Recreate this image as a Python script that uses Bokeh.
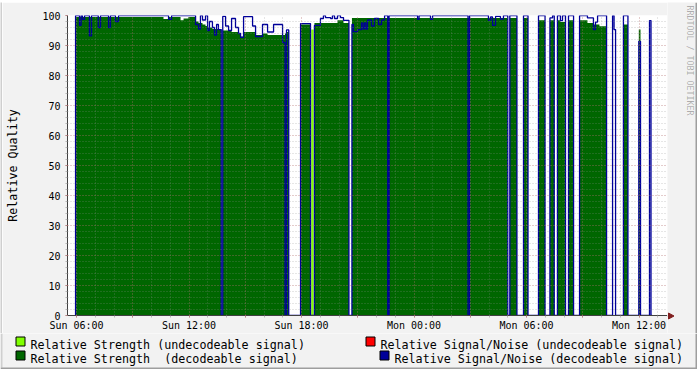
import math
from bokeh.plotting import figure
from bokeh.layouts import column, row
from bokeh.models import FixedTicker, Range1d
from bokeh.core.properties import value
from bokeh.embed import file_html
from bokeh.resources import INLINE

# ---- data (time in hours since Sunday 00:00; each value holds until the next start) ----
t_start = [5.95, 6.16, 6.245, 6.32, 6.43, 6.69, 6.80, 7.16, 7.28, 7.71,
           7.81, 8.08, 8.24, 10.64, 10.91, 11.07, 11.55, 11.71, 11.97, 12.35,
           12.51, 12.61, 12.72, 12.88, 12.99, 13.09, 13.25, 13.36, 13.47, 13.57,
           13.72, 13.80, 13.95, 14.11, 14.27, 14.48, 14.64, 14.75, 14.91, 15.39,
           15.55, 15.92, 16.19, 16.51, 16.99, 17.12, 17.20, 17.32, 17.95, 18.48,
           18.69, 19.01, 19.17, 19.28, 19.55, 19.65, 19.76, 19.92, 20.08, 20.24,
           20.53, 20.69, 20.77, 20.99, 21.20, 21.28, 21.36, 21.44, 21.52, 21.73,
           21.89, 22.11, 22.27, 22.43, 22.60, 22.67, 24.19, 24.27, 24.88, 24.99,
           26.88, 26.96, 27.97, 28.08, 28.19, 28.35, 28.61, 28.77, 29.00, 29.11,
           29.49, 29.84, 30.08, 30.64, 30.99, 31.25, 31.39, 31.48, 31.65, 31.81,
           31.92, 32.08, 32.24, 32.51, 32.83, 33.25, 33.57, 33.68, 33.79, 33.89,
           34.27, 34.59, 34.67, 34.75, 35.17, 35.41, 35.99, 36.08, 36.56, 36.64]
t_end = 36.70

N = None
strength = [99.5, 99.5, 99.5, 99.5, 99.5, 99.5, 99.5, 99.5, 99.5, 99.5,
            99.5, 99.5, 99.5, 98.8, 99.5, 99.5, 98.4, 99.0, 99.5, 98.0,
            97.5, 97.5, 97.0, 96.5, 96.0, 96.0, 95.5, 95.5, 95.5, 95.3,
            N, 95.0, 95.0, 95.0, 94.5, 94.5, 94.0, 93.0, 94.5, 94.5,
            93.5, 94.0, 93.5, 93.5, 93.5, 94.0, 94.5, N, 97.0, N,
            97.5, 97.5, 97.5, 97.5, 97.5, 97.5, 97.5, 98.4, 98.4, 97.5,
            N, 99.2, 99.2, 99.2, 99.2, 99.2, 99.2, 99.2, 99.2, 99.2,
            99.2, 99.2, 99.2, 99.2, 99.2, 99.2, 99.2, 99.2, 99.2, 99.2,
            99.2, 99.2, 99.2, 99.2, 99.2, 99.2, 99.2, 99.2, N, 99.2,
            N, 99.2, N, 98.4, N, 98.4, 98.4, N, 98.4, 97.8,
            97.8, N, 98.4, N, 98.4, 97.5, 97.0, 97.0, 97.0, 96.4,
            N, N, N, N, 97.0, N, 95.3, N, N, N]

snr = [100, 96.7, 100, 98.7, 100, 93.2, 100, 96.0, 100, 96.0,
       100, 98.0, 100, 100, 98.7, 100, 100, 100, 100, 97.0,
       95.5, 100, 98.5, 100, 95.0, 98.0, 96.0, 93.5, 97.0, 95.3,
       0, 99.7, 96.5, 95.0, 99.0, 96.0, 94.0, 92.7, 99.6, 96.5,
       93.0, 97.0, 94.5, 97.0, 91.0, 0, 95.2, 0, 97.3, 0,
       96.7, 99.0, 100, 99.3, 99.0, 100, 99.0, 100, 99.3, 98.4,
       0, 97.0, 94.6, 95.3, 97.5, 95.5, 97.5, 95.5, 98.5, 96.5,
       99.0, 97.0, 98.5, 100, 0, 100, 98.7, 100, 98.7, 100,
       0, 100, 98.4, 99.5, 96.7, 99.7, 98.8, 100, 0, 100,
       0, 100, 0, 100, 0, 99.2, 100, 0, 100, 98.3,
       100, 0, 100, 0, 100, 99.2, 95.3, 97.8, 100, 100,
       0, 100, 95.3, 0, 100, 0, 91.4, 0, 98.3, 0]

# undecodeable strength (light green)
weak_start = [18.52]
weak_end = [18.65]
weak_level = [95.3]

tick_hours = [6, 12, 18, 24, 30, 36]
tick_labels = ["Sun 06:00", "Sun 12:00", "Sun 18:00", "Mon 00:00", "Mon 06:00", "Mon 12:00"]
y_ticks = list(range(0, 101, 10))

legend_labels = ["Relative Strength (undecodeable signal)",
                 "Relative Strength\u00a0 (decodeable signal)",
                 "Relative Signal/Noise (undecodeable signal)",
                 "Relative Signal/Noise (decodeable signal)"]

C_DEC = "#006600"
C_WEAK = "#80FF00"
C_RED = "#FF0000"
C_BLUE = "#000099"
legend_colors = [C_WEAK, C_DEC, C_RED, C_BLUE]
FONT = "DejaVu Sans Mono"
BG = "#F2F2F2"
SHADE_A = "#CFCFCF"
SHADE_B = "#9E9E9E"

# ---- build shapes from data ----
edges = t_start[1:] + [t_end]
pxs, pys = [], []
rx, ry = [], []
for a, b, s in zip(t_start, edges, strength):
    if s is None:
        if rx:
            rx.append(rx[-1]); ry.append(0)
            pxs.append(rx); pys.append(ry)
            rx, ry = [], []
    else:
        if not rx:
            rx, ry = [a], [0]
        rx += [a, b]; ry += [s, s]
if rx:
    rx.append(rx[-1]); ry.append(0)
    pxs.append(rx); pys.append(ry)

lx, ly = [t_start[0]], [0]
for a, b, n in zip(t_start, edges, snr):
    lx += [a, b]; ly += [n, n]


def strip(w, h, xr, yr, color):
    f = figure(width=w, height=h, output_backend="svg", toolbar_location=None, title=None,
               x_range=xr, y_range=yr, x_axis_type=None, y_axis_type=None,
               min_border=0, frame_align=False)
    f.grid.visible = False
    f.background_fill_color = color
    f.border_fill_color = color
    f.outline_line_color = None
    return f


# ---- main chart ----
p = figure(width=665, height=331, output_backend="svg", toolbar_location=None, title=None,
           x_range=Range1d(5.52, 37.52), y_range=Range1d(0, 100), frame_align=False,
           min_border_left=65, min_border_right=0, min_border_top=13, min_border_bottom=18)
p.background_fill_color = "white"
p.border_fill_color = BG
p.outline_line_color = None

p.patches(xs=pxs, ys=pys, fill_color=C_DEC, line_color=None)
p.quad(left=weak_start, right=weak_end, bottom=0, top=weak_level, fill_color=C_WEAK, line_color=None)
p.line(lx, ly, line_color=C_BLUE, line_width=1.3)

p.xaxis.ticker = FixedTicker(ticks=list(range(6, 38, 3)), minor_ticks=list(range(6, 38)))
p.xaxis.major_label_overrides = {h: (tick_labels[tick_hours.index(h)] if h in tick_hours else "")
                                 for h in range(6, 38, 3)}
p.yaxis.ticker = FixedTicker(ticks=y_ticks, minor_ticks=list(range(0, 101, 2)))
for ax in (p.xaxis[0], p.yaxis[0]):
    ax.axis_line_color = "#404040"
    ax.major_tick_out = 2
    ax.major_tick_in = 0
    ax.minor_tick_out = 2
    ax.minor_tick_in = 0
    ax.major_tick_line_color = "#DE5050"
    ax.major_tick_line_alpha = 0.7
    ax.minor_tick_line_color = "#8F8F8F"
    ax.minor_tick_line_alpha = 0.6
    ax.major_label_text_font = FONT
    ax.major_label_text_font_size = "10px"
    ax.major_label_text_color = "black"
p.xaxis.major_label_standoff = 2
p.yaxis.major_label_standoff = 5
p.yaxis.axis_label = "Relative Quality"
p.yaxis.axis_label_text_font = FONT
p.yaxis.axis_label_text_font_size = "11.7px"
p.yaxis.axis_label_text_font_style = "normal"
p.yaxis.axis_label_text_color = "black"
p.yaxis.axis_label_standoff = 19

for g in (p.xgrid[0], p.ygrid[0]):
    g.level = "overlay"
    g.grid_line_color = "#DE5050"
    g.grid_line_alpha = 0.35
    g.grid_line_dash = "1 2"
    g.minor_grid_line_color = "#8F8F8F"
    g.minor_grid_line_alpha = 0.45
    g.minor_grid_line_dash = "1 2"

# ---- right strip (canvas coordinates y 2..333): watermark, x-axis arrow, shaded edge ----
side = strip(30, 331, Range1d(0, 30), Range1d(333, 2), BG)
side.text(x=[22.5], y=[5], text=["RRDTOOL / TOBI OETIKER"], angle=-math.pi / 2,
          text_font=value(FONT), text_font_size=value("8.3px"), text_color="#000000", text_alpha=0.3,
          text_align="left", text_baseline="alphabetic")
side.segment(x0=[0], y0=[315.5], x1=[1.5], y1=[315.5], line_color="#404040", line_width=1)
side.patch(x=[1, 6.5, 1], y=[312.5, 315.5, 318.5], fill_color="#801F1F", line_color="#801F1F")
side.quad(left=[28], right=[30], top=[2], bottom=[333], fill_color=SHADE_B, line_color=None)

top = strip(697, 2, Range1d(0, 697), Range1d(0, 2), SHADE_A)
left = strip(2, 331, Range1d(0, 2), Range1d(0, 331), SHADE_A)

# ---- legend strip ----
leg = strip(697, 36, Range1d(0, 697), Range1d(36, 0), BG)
sq_x = [15.5, 15.5, 365.5, 379.5]
sq_y = [3.5, 17.5, 3.5, 17.5]
leg.quad(left=sq_x, right=[v + 9 for v in sq_x], top=sq_y, bottom=[v + 9 for v in sq_y],
         fill_color=legend_colors, line_color="black", line_width=1)
leg.text(x=[v + 14.5 for v in sq_x], y=[11.3, 25.9, 11.3, 25.9], text=legend_labels,
         text_font=value(FONT), text_font_size=value("11.7px"), text_color="black",
         text_align="left", text_baseline="alphabetic")
leg.quad(left=[0], right=[2], top=[0], bottom=[34], fill_color=SHADE_A, line_color=None)
leg.quad(left=[0], right=[697], top=[34], bottom=[36], fill_color=SHADE_B, line_color=None)
leg.quad(left=[695], right=[697], top=[0], bottom=[36], fill_color=SHADE_B, line_color=None)

layout = column(top, row(left, p, side, spacing=0), leg, spacing=0)
open("out.html", "w").write(file_html(layout, INLINE))
